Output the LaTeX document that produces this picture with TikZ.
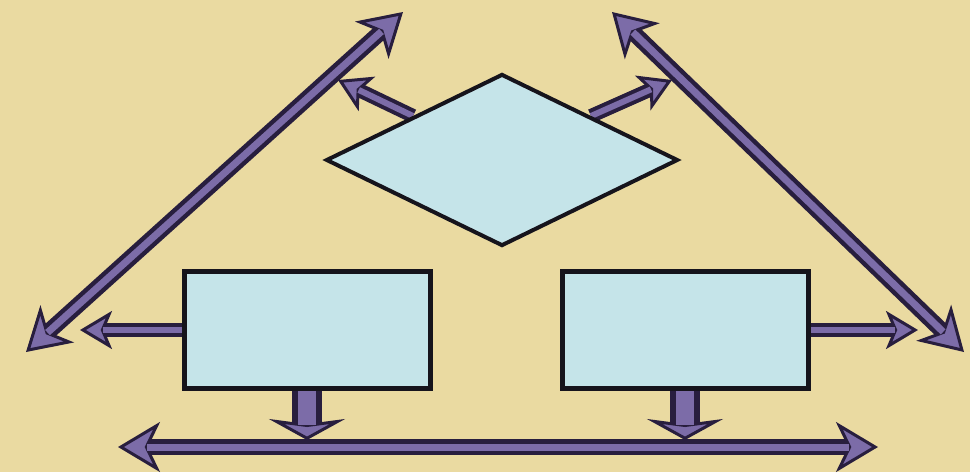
\documentclass[tikz,border=0pt]{standalone}
\usetikzlibrary{shapes.geometric, arrows.meta, positioning}

\definecolor{paper}{RGB}{234,218,161}
\definecolor{panel}{RGB}{197,228,233}
\definecolor{ink}{RGB}{22,20,28}
\definecolor{rim}{RGB}{40,30,62}
\definecolor{plum}{RGB}{124,108,168}

\pgfdeclarelayer{back}
\pgfsetlayers{back,main}

\begin{document}
\begin{tikzpicture}[
        x=1pt, y=-1pt,
        box/.style={draw=ink, fill=panel, line width=5pt, minimum width=246pt, minimum height=117pt, inner sep=0pt},
        choice/.style={diamond, draw=ink, fill=panel, line width=4pt, minimum width=352pt, minimum height=172pt, inner sep=0pt},
        link/.style={draw=rim, line width=14pt,
            -{Stealth[length=32pt, width=38pt, inset=8pt, line width=3pt, fill=plum]},
            postaction={draw=plum, line width=6pt, -, shorten >=23pt}},
        twoway/.style={draw=rim, line width=16pt,
            {Stealth[length=42pt, width=50pt, inset=12pt, line width=3pt, fill=plum]}-{Stealth[length=42pt, width=50pt, inset=12pt, line width=3pt, fill=plum]},
            postaction={draw=plum, line width=7pt, -, shorten <=29pt, shorten >=29pt}},
        drop/.style={draw=rim, line width=30pt,
            -{Stealth[length=21pt, width=76pt, inset=5pt, line width=3pt, fill=plum]},
            postaction={draw=plum, line width=18pt, -, shorten >=15pt}}
    ]
        \useasboundingbox (0,0) rectangle (970,472);

        % Nodes
        \node[choice] (decision) at (502,160) {};
        \node[box] (boxL) at (307,330) {};
        \node[box, right=127pt of boxL] (boxR) {};

        % Arrow ends
        \coordinate (tipNW) at (403,12);
        \coordinate (tipSW) at (26,352);
        \coordinate (tipNE) at (612,12);
        \coordinate (tipSE) at (964,352);
        \coordinate (busW) at (118,447);
        \coordinate (busE) at (878,447);
        \coordinate (hitNW) at (338,80);
        \coordinate (hitNE) at (672,80);
        \coordinate (hitW) at (80,330);
        \coordinate (hitE) at (918,330);
        \coordinate (dropL) at (307,440);
        \coordinate (dropR) at (boxR.south |- dropL);

        \begin{pgfonlayer}{back}
        \fill[paper] (0,0) rectangle (970,472);

        % Long arrows
        \draw[twoway] (tipSW) -- (tipNW);
        \draw[twoway] (tipNE) -- (tipSE);
        \draw[twoway] (busW) -- (busE);

        % Arrows out of the nodes
        \draw[link] (decision.north west) -- (hitNW);
        \draw[link] (decision.north east) -- (hitNE);
        \draw[link] (boxL.west) -- (hitW);
        \draw[link] (boxR.east) -- (hitE);
        \draw[drop] (boxL.south) -- (dropL);
        \draw[drop] (boxR.south) -- (dropR);
        \end{pgfonlayer}
\end{tikzpicture}
\end{document}
